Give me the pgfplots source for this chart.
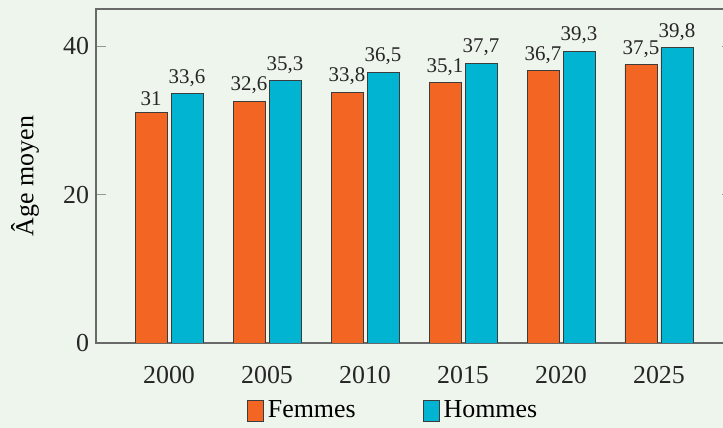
\documentclass[border=0pt]{standalone}
\usepackage{pgfplots}
\pgfplotsset{compat=1.18}
\usepackage{fontspec}
\setmainfont{Liberation Serif}
\definecolor{bgc}{RGB}{238,245,236}
\definecolor{fem}{RGB}{242,101,34}
\definecolor{hom}{RGB}{0,180,210}
\definecolor{axc}{RGB}{105,105,105}
\definecolor{tkc}{RGB}{150,150,150}
\definecolor{edg}{RGB}{60,60,60}
\begin{document}
\begin{tikzpicture}
\fill[bgc] (0,0) rectangle (361.5bp,214bp);
\begin{axis}[
  at={(48bp,42.5bp)}, anchor=south west,
  scale only axis, width=318bp, height=167bp,
  ybar=2bp, bar width=16bp,
  xmin=-0.745, xmax=5.745, ymin=0, ymax=45,
  xtick=data, xticklabels={2000,2005,2010,2015,2020,2025},
  ytick={0,20,40},
  axis line style={axc, line width=0.8pt},
  xtick style={draw=none},
  ytick style={tkc, line width=0.6pt},
  major tick length=5bp,
  tick label style={font=\fontsize{13}{15}\selectfont, text=black!85},
  xticklabel style={yshift=-3bp},
  /pgf/number format/assume math mode=true,
  ylabel={Âge moyen},
  ylabel style={at={(axis description cs:-0.1116,0.5)}, anchor=center, font=\fontsize{13}{15}\selectfont},
  nodes near coords,
  nodes near coords style={font=\fontsize{10.5}{12}\selectfont, text=black!85, /pgf/number format/.cd, use comma, assume math mode=true},
  legend columns=2,
  legend style={at={(axis description cs:0.4686,-0.2036)}, anchor=center, draw=none, fill=none,
    font=\fontsize{13}{15}\selectfont, /tikz/every even column/.append style={column sep=31.5bp}},
  legend image code/.code={\draw[#1,draw=edg] (0bp,-5.25bp) rectangle (8bp,5.25bp);},
]
\addplot[fill=fem, draw=edg, line width=0.5pt] coordinates {(0,31) (1,32.6) (2,33.8) (3,35.1) (4,36.7) (5,37.5)};
\addplot[fill=hom, draw=edg, line width=0.5pt] coordinates {(0,33.6) (1,35.3) (2,36.5) (3,37.7) (4,39.3) (5,39.8)};
\legend{Femmes, Hommes}
\end{axis}
\pgfresetboundingbox
\useasboundingbox (0,0) rectangle (361.5bp,214bp);
\end{tikzpicture}
\end{document}
